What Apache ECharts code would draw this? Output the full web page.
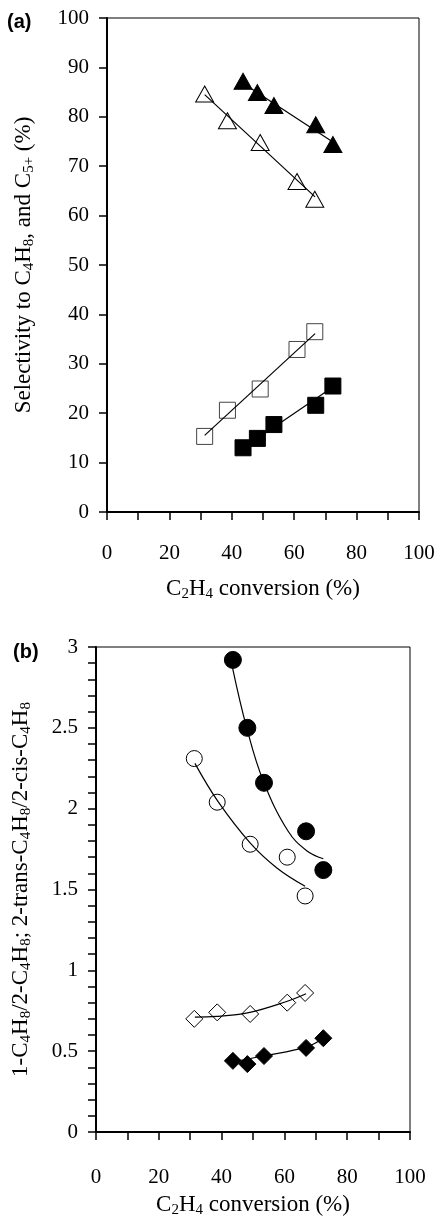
<!DOCTYPE html>
<html>
<head>
<meta charset="utf-8">
<script src="https://cdn.jsdelivr.net/npm/echarts@6/dist/echarts.min.js"></script>
<style>
html,body{margin:0;padding:0;background:#fff;}
#chart{width:438px;height:1219px;}
</style>
</head>
<body>
<div id="chart"></div>
<script>
// ---- data ----
const convOpen   = [31.3, 38.6, 49.1, 60.9, 66.6];
const convFilled = [43.6, 48.2, 53.5, 66.9, 72.4];

// panel (a): selectivity (%)
const c4OpenTri    = [84.6, 79.2, 74.8, 66.9, 63.3];
const c4FilledTri  = [87.2, 84.9, 82.3, 78.4, 74.4];
const c5OpenSq     = [15.3, 20.6, 24.9, 32.9, 36.5];
const c5FilledSq   = [13.0, 14.9, 17.7, 21.6, 25.5];

// panel (a): linear fit lines (end points)
const fitOpenTriX   = [31.3, 66.7], fitOpenTriY   = [84.5, 63.8];
const fitFilledTriX = [43.6, 72.4], fitFilledTriY = [86.8, 74.9];
const fitOpenSqX    = [31.3, 66.7], fitOpenSqY    = [15.5, 36.1];
const fitFilledSqX  = [43.6, 72.4], fitFilledSqY  = [12.9, 25.3];

// panel (b): ratios
const transCisOpen   = [2.31, 2.04, 1.78, 1.70, 1.46];
const transCisFilled = [2.92, 2.50, 2.16, 1.86, 1.62];
const oneTwoOpen     = [0.70, 0.74, 0.73, 0.80, 0.86];
const oneTwoFilled   = [0.44, 0.42, 0.47, 0.52, 0.58];

// panel (b): fitted curves
const fitTCOpenX   = [31.5, 39.0, 49.0, 57.5, 66.6];
const fitTCOpenY   = [2.28, 2.04, 1.79, 1.635, 1.52];
const fitTCFilledX = [43.5, 48.0, 53.3, 61.2, 67.1, 72.4];
const fitTCFilledY = [2.87, 2.50, 2.17, 1.86, 1.74, 1.69];
const fitOTOpenX   = [31.5, 38.4, 49.0, 60.7, 66.9];
const fitOTOpenY   = [0.711, 0.715, 0.740, 0.807, 0.855];
const fitOTFilledX = [43.2, 53.3, 67.1, 72.4];
const fitOTFilledY = [0.433, 0.470, 0.527, 0.582];

// tick labels
const xTicks  = [0, 20, 40, 60, 80, 100];
const yTicksA = [0, 10, 20, 30, 40, 50, 60, 70, 80, 90, 100];
const yTicksB = [0, 0.5, 1, 1.5, 2, 2.5, 3];

// ---- helpers ----
const zip = (xs, ys) => xs.map((x, i) => [x, ys[i]]);
const FONT = 'Liberation Serif';
const TICK_FS = 21;
const NAME_FS = 23;
const SUB_FS = 15;
const rich = {
  n: {fontFamily: FONT, fontSize: NAME_FS, color: '#000', lineHeight: 26},
  s: {fontFamily: FONT, fontSize: SUB_FS, color: '#000', lineHeight: 15, verticalAlign: 'bottom'}
};
const near = (v, arr) => arr.some(t => Math.abs(t - v) < 1e-6);

function xAxis(gridIndex, nameGap, margin) {
  return {
    type: 'value', gridIndex, min: 0, max: 100, interval: 10,
    name: '{n|C}{s|2}{n|H}{s|4}{n| conversion (%)}',
    nameLocation: 'middle', nameGap,
    nameTextStyle: {rich},
    axisLine: {show: true, lineStyle: {color: '#000', width: 2}},
    axisTick: {show: true, inside: false, length: 8, lineStyle: {color: '#000', width: 1.5}},
    axisLabel: {
      margin, fontFamily: FONT, fontSize: TICK_FS, color: '#000',
      formatter: v => near(v, xTicks) ? String(v) : ''
    },
    splitLine: {show: false}
  };
}

const option = {
  animation: false,
  backgroundColor: '#fff',
  title: [
    {text: '(a)', left: 2, top: 7, textStyle: {fontFamily: 'Liberation Sans', fontWeight: 'bold', fontSize: 20, color: '#000'}},
    {text: '(b)', left: 8, top: 637, textStyle: {fontFamily: 'Liberation Sans', fontWeight: 'bold', fontSize: 20, color: '#000'}}
  ],
  grid: [
    {left: 107, right: 19, top: 18, height: 494, show: true, borderColor: '#000', borderWidth: 1, backgroundColor: 'transparent'},
    {left: 96, right: 28, top: 647, height: 490, show: true, borderColor: '#000', borderWidth: 1, backgroundColor: 'transparent'}
  ],
  xAxis: [xAxis(0, 64, 31), xAxis(1, 60, 35)],
  yAxis: [
    {
      type: 'value', gridIndex: 0, min: 0, max: 100, interval: 10,
      name: '{n|Selectivity to C}{s|4}{n|H}{s|8}{n|, and C}{s|5+}{n| (%)}',
      nameLocation: 'middle', nameGap: 70, nameRotate: 90,
      nameTextStyle: {rich},
      axisLine: {show: true, lineStyle: {color: '#000', width: 2}},
      axisTick: {show: true, inside: false, length: 8, lineStyle: {color: '#000', width: 1.5}},
      axisLabel: {
        margin: 18, fontFamily: FONT, fontSize: TICK_FS, color: '#000',
        formatter: v => near(v, yTicksA) ? String(v) : ''
      },
      splitLine: {show: false}
    },
    {
      type: 'value', gridIndex: 1, min: 0, max: 3, interval: 0.1,
      name: '{n|1-C}{s|4}{n|H}{s|8}{n|/2-C}{s|4}{n|H}{s|8}{n|; 2-trans-C}{s|4}{n|H}{s|8}{n|/2-cis-C}{s|4}{n|H}{s|8}',
      nameLocation: 'middle', nameGap: 62, nameRotate: 90,
      nameTextStyle: {rich},
      axisLine: {show: true, lineStyle: {color: '#000', width: 2}},
      axisTick: {show: true, inside: false, length: 8, lineStyle: {color: '#000', width: 1.5}},
      axisLabel: {
        margin: 18, fontFamily: FONT, fontSize: TICK_FS, color: '#000',
        formatter: v => {
          const m = yTicksB.find(t => Math.abs(t - v) < 1e-6);
          return m === undefined ? '' : String(m);
        }
      },
      splitLine: {show: false}
    }
  ],
  series: []
};

function pts(name, xi, yi, xs, ys, symbol, size, filled, border) {
  return {
    name, type: 'scatter', xAxisIndex: xi, yAxisIndex: yi, z: 2,
    data: zip(xs, ys), symbol, symbolSize: size,
    itemStyle: filled ? {color: '#000', borderColor: '#000', borderWidth: 1, opacity: 1}
                      : {color: '#fff', borderColor: border || '#000', borderWidth: 1, opacity: 1},
    emphasis: {disabled: true}
  };
}
function fit(name, xi, yi, xs, ys, smooth) {
  return {
    name, type: 'line', xAxisIndex: xi, yAxisIndex: yi, z: 3,
    data: zip(xs, ys), showSymbol: false, symbol: 'none', smooth: smooth || false,
    lineStyle: {color: '#000', width: 1.2}, emphasis: {disabled: true}
  };
}

option.series.push(
  pts('C4 open', 0, 0, convOpen, c4OpenTri, 'triangle', [18, 16], false),
  pts('C4 filled', 0, 0, convFilled, c4FilledTri, 'triangle', [18, 16], true),
  pts('C5 open', 0, 0, convOpen, c5OpenSq, 'rect', 16, false, '#444'),
  pts('C5 filled', 0, 0, convFilled, c5FilledSq, 'rect', 16, true),
  fit('fit1', 0, 0, fitOpenTriX, fitOpenTriY),
  fit('fit2', 0, 0, fitFilledTriX, fitFilledTriY),
  fit('fit3', 0, 0, fitOpenSqX, fitOpenSqY),
  fit('fit4', 0, 0, fitFilledSqX, fitFilledSqY),
  pts('TC open', 1, 1, convOpen, transCisOpen, 'circle', 16, false),
  pts('TC filled', 1, 1, convFilled, transCisFilled, 'circle', 17, true),
  pts('OT open', 1, 1, convOpen, oneTwoOpen, 'diamond', 17, false),
  pts('OT filled', 1, 1, convFilled, oneTwoFilled, 'diamond', 17, true),
  fit('fit5', 1, 1, fitTCOpenX, fitTCOpenY, 0.4),
  fit('fit6', 1, 1, fitTCFilledX, fitTCFilledY, 0.4),
  fit('fit7', 1, 1, fitOTOpenX, fitOTOpenY, 0.4),
  fit('fit8', 1, 1, fitOTFilledX, fitOTFilledY, 0.4)
);

const chart = echarts.init(document.getElementById('chart'));
chart.setOption(option);
</script>
</body>
</html>
